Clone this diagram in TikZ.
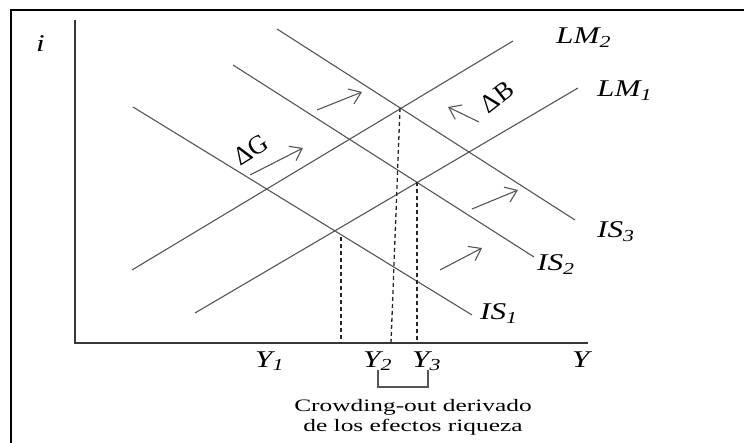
\documentclass[tikz,border=0pt]{standalone}
\usepackage{fontspec}
\setmainfont{Liberation Serif}
\usepackage{tikz}
\usetikzlibrary{arrows.meta}
\definecolor{curvegray}{RGB}{85,85,85}
\definecolor{axisgray}{RGB}{55,55,55}
\newcommand{\curvelbl}[2]{\scalebox{1.3}[1]{\fontsize{24}{28}\selectfont\textit{#1\textsubscript{#2}}}}
\newcommand{\notetext}[1]{\scalebox{1.45}[1]{\fontsize{17.5}{21}\selectfont #1}}
\tikzset{
  curve/.style={curvegray, line width=1.1pt},
  shiftarrow/.style={curvegray, line width=1.1pt, -{Straight Barb[length=11pt,width=16pt]}},
  guide/.style={black!85, line width=1.3pt, dash pattern=on 4pt off 3pt},
  lbl/.style={inner sep=0pt, anchor=base west},
  deltalbl/.style={inner sep=0pt, font=\fontsize{26}{30}\selectfont},
}
\begin{document}
\begin{tikzpicture}[x=1pt, y=-1pt]
\useasboundingbox (0,0) rectangle (744,443);
% Frame
\draw[black, line width=2pt] (744,10) -- (11,10) -- (11,443);
% Axes
\coordinate (o) at (75,343);
\coordinate (itop) at (75,20);
\coordinate (yend) at (588,343);
\draw[axisgray, line width=1.7pt] (itop) -- (o) -- (yend);
\node[lbl] (ilbl) at (36,52) {\scalebox{1.3}[1]{\fontsize{24}{28}\selectfont\textit{i}}};
\node[lbl] (ylbl) at (572,367) {\scalebox{1.3}[1]{\fontsize{24}{28}\selectfont\textit{Y}}};
% IS curves
\coordinate (is1s) at (133,107); \coordinate (is1e) at (472,315);
\coordinate (is2s) at (233,65);  \coordinate (is2e) at (534,257);
\coordinate (is3s) at (277,29);  \coordinate (is3e) at (575,220);
\draw[curve] (is1s) -- (is1e);
\draw[curve] (is2s) -- (is2e);
\draw[curve] (is3s) -- (is3e);
\node[lbl] (is1) at (480,320) {\curvelbl{IS}{1}};
\node[lbl] (is2) at (537,271) {\curvelbl{IS}{2}};
\node[lbl] (is3) at (597,238) {\curvelbl{IS}{3}};
% LM curves
\coordinate (lm1s) at (195,313); \coordinate (lm1e) at (578,88);
\coordinate (lm2s) at (132,270); \coordinate (lm2e) at (513,41);
\draw[curve] (lm1s) -- (lm1e);
\draw[curve] (lm2s) -- (lm2e);
\node[lbl] (lm1) at (597,97) {\curvelbl{LM}{1}};
\node[lbl] (lm2) at (556,44) {\curvelbl{LM}{2}};
% Shifts
\coordinate (g1) at (250,175); \coordinate (g2) at (303,148);
\coordinate (t1) at (317,110); \coordinate (t2) at (362,92);
\coordinate (b1) at (479,122); \coordinate (b2) at (448,107);
\coordinate (r1) at (472,209); \coordinate (r2) at (518,190);
\coordinate (s1) at (440,270); \coordinate (s2) at (482,248);
\draw[shiftarrow] (g1) -- (g2);
\draw[shiftarrow] (t1) -- (t2);
\draw[shiftarrow] (b1) -- (b2);
\draw[shiftarrow] (r1) -- (r2);
\draw[shiftarrow] (s1) -- (s2);
\node[deltalbl, rotate=32] (dg) at (251,150) {ΔG};
\node[deltalbl, rotate=38] (db) at (497,97) {ΔB};
% Equilibria
\coordinate (e1) at (341,237); \coordinate (y1) at (341,343);
\coordinate (e2) at (400,108); \coordinate (y2) at (391,343);
\coordinate (e3) at (417,182); \coordinate (y3) at (417,343);
\draw[guide] (e1) -- (y1);
\draw[guide] (e2) -- (y2);
\draw[guide] (e3) -- (y3);
\node[lbl] (y1lbl) at (255,367) {\curvelbl{Y}{1}};
\node[lbl] (y2lbl) at (363,367) {\curvelbl{Y}{2}};
\node[lbl] (y3lbl) at (412,367) {\curvelbl{Y}{3}};
% Crowding-out
\coordinate (k1) at (378,370); \coordinate (k2) at (428,370);
\draw[curvegray, line width=1.2pt] (k1) -- ++(0,17) -| (k2);
\node[inner sep=0pt, anchor=base] (note1) at (413,411) {\notetext{Crowding-out derivado}};
\node[inner sep=0pt, anchor=base] (note2) at (413,431) {\notetext{de los efectos riqueza}};
\end{tikzpicture}
\end{document}
